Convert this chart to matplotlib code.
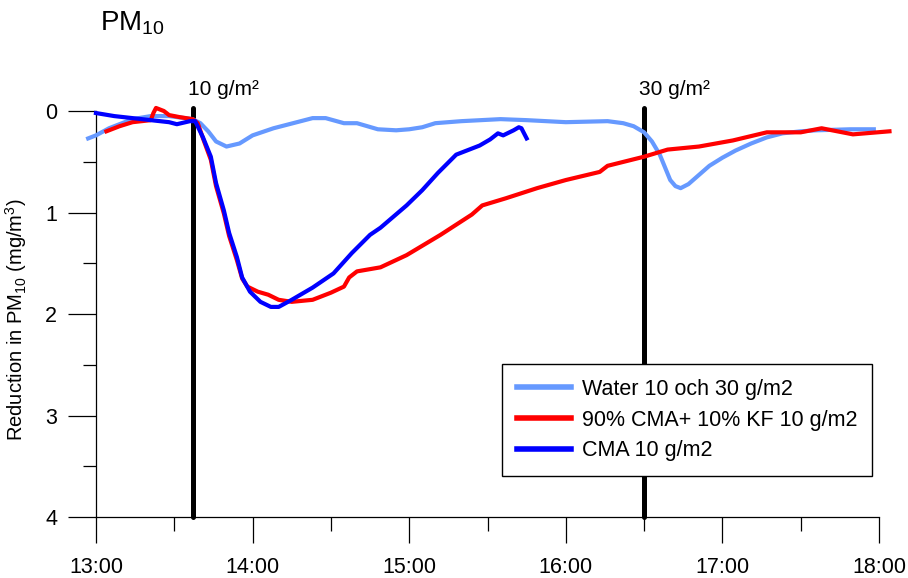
import matplotlib.pyplot as plt
from matplotlib.ticker import MultipleLocator, FuncFormatter

plt.rcParams['font.family'] = ['Liberation Sans', 'DejaVu Sans']
plt.rcParams['mathtext.default'] = 'regular'

# PM10 reduction (mg/m3)
water_t = ["12:57", "13:00", "13:05", "13:14", "13:21", "13:28", "13:37", "13:40",
           "13:43", "13:46", "13:50", "13:55", "14:00", "14:08", "14:14", "14:23",
           "14:28", "14:35", "14:40", "14:48", "14:55", "15:00", "15:05", "15:10",
           "15:20", "15:35", "15:45", "16:00", "16:16", "16:22", "16:26", "16:30",
           "16:33", "16:36", "16:40", "16:42", "16:44", "16:47", "16:51", "16:55",
           "17:00", "17:05", "17:11", "17:17", "17:23", "17:30", "17:36", "17:49",
           "17:58"]
water_y = [0.27, 0.24, 0.17, 0.08, 0.05, 0.05, 0.08, 0.12,
           0.20, 0.30, 0.35, 0.32, 0.24, 0.17, 0.13, 0.07,
           0.07, 0.12, 0.12, 0.18, 0.19, 0.18, 0.16, 0.12,
           0.10, 0.08, 0.09, 0.11, 0.10, 0.12, 0.15, 0.21,
           0.30, 0.43, 0.68, 0.74, 0.76, 0.72, 0.63, 0.54,
           0.46, 0.39, 0.32, 0.26, 0.22, 0.20, 0.19, 0.18,
           0.18]

kf_t = ["13:04", "13:09", "13:14", "13:21", "13:22", "13:23", "13:26", "13:28",
        "13:32", "13:37", "13:39", "13:41", "13:44", "13:46", "13:49", "13:51",
        "13:54", "13:56", "13:58", "14:02", "14:06", "14:10", "14:15", "14:23",
        "14:30", "14:35", "14:37", "14:40", "14:49", "14:59", "15:12", "15:24",
        "15:28", "15:37", "15:49", "16:00", "16:13", "16:16", "16:30", "16:39",
        "16:51", "17:04", "17:17", "17:30", "17:38", "17:50", "18:04"]
kf_y = [0.20, 0.15, 0.11, 0.09, 0.02, -0.03, 0.00, 0.04,
        0.06, 0.08, 0.12, 0.27, 0.48, 0.74, 1.01, 1.23,
        1.47, 1.65, 1.73, 1.78, 1.81, 1.86, 1.88, 1.86,
        1.79, 1.73, 1.64, 1.58, 1.54, 1.42, 1.22, 1.02,
        0.93, 0.86, 0.76, 0.68, 0.60, 0.54, 0.45, 0.38,
        0.35, 0.29, 0.21, 0.21, 0.17, 0.23, 0.20]

cma_t = ["13:00", "13:07", "13:14", "13:21", "13:28", "13:31", "13:36", "13:38",
         "13:41", "13:44", "13:46", "13:49", "13:51", "13:54", "13:56", "13:59",
         "14:03", "14:07", "14:10", "14:15", "14:23", "14:31", "14:38", "14:45",
         "14:49", "14:59", "15:05", "15:11", "15:18", "15:22", "15:27", "15:31",
         "15:34", "15:36", "15:40", "15:42", "15:43", "15:45"]
cma_y = [0.02, 0.05, 0.07, 0.09, 0.11, 0.13, 0.10, 0.10,
         0.26, 0.45, 0.71, 0.98, 1.20, 1.44, 1.64, 1.78,
         1.88, 1.93, 1.93, 1.86, 1.74, 1.60, 1.40, 1.22,
         1.15, 0.93, 0.78, 0.61, 0.43, 0.39, 0.34, 0.28,
         0.22, 0.24, 0.19, 0.16, 0.17, 0.27]

dose_t = ["13:37", "16:30"]
dose_labels = ["10 g/m²", "30 g/m²"]


def hours(s):
    h, m = s.split(":")
    return int(h) + int(m) / 60


def hhmm(x, pos):
    h = int(x)
    m = int(round((x - h) * 60))
    return "%d:%02d" % (h, m)


fig = plt.figure(figsize=(9.08, 5.78), dpi=100)
ax = fig.add_axes([0.1057, 0.1055, 0.8624, 0.72])

for t, lab in zip(dose_t, dose_labels):
    ax.plot([hours(t), hours(t)], [-0.03, 4], color="black", lw=3.6,
            solid_capstyle="round", clip_on=False, zorder=1)
    ax.text(hours(t) - 0.03, -0.16, lab, fontsize=15, ha="left", va="baseline")

ax.plot([hours(t) for t in water_t], water_y, color="#6699ff", lw=3,
        label="Water 10 och 30 g/m2", clip_on=False, zorder=3)
ax.plot([hours(t) for t in kf_t], kf_y, color="#ff0000", lw=3,
        label="90% CMA+ 10% KF 10 g/m2", clip_on=False, zorder=4)
ax.plot([hours(t) for t in cma_t], cma_y, color="#0000ff", lw=3,
        label="CMA 10 g/m2", clip_on=False, zorder=5)

ax.set_xlim(13, 18)
ax.set_ylim(4, -0.1)
ax.spines["top"].set_visible(False)
ax.spines["right"].set_visible(False)
ax.spines["left"].set_bounds(0, 4)
for s in ("left", "bottom"):
    ax.spines[s].set_linewidth(0.9)

ax.xaxis.set_major_locator(MultipleLocator(1))
ax.xaxis.set_minor_locator(MultipleLocator(0.5))
ax.xaxis.set_major_formatter(FuncFormatter(hhmm))
ax.yaxis.set_major_locator(MultipleLocator(1))
ax.yaxis.set_minor_locator(MultipleLocator(0.5))
ax.tick_params(axis="x", which="major", length=19, width=0.9, pad=10, labelsize=15.5)
ax.tick_params(axis="x", which="minor", length=10, width=0.9)
ax.tick_params(axis="y", which="major", length=20, width=0.9, pad=8, labelsize=15.5)
ax.tick_params(axis="y", which="minor", length=9.5, width=0.9)

ax.set_ylabel("Reduction in PM$_{10}$ (mg/m$^3$)", fontsize=14.5)
ax.yaxis.set_label_coords(-0.085, 0.475)

fig.text(0.11, 0.948, "PM$_{10}$", fontsize=20, va="baseline")

leg = ax.legend(loc="upper left", bbox_to_anchor=(0.5185, 0.368), borderaxespad=0,
                fontsize=15.5, handlelength=2.5, handletextpad=0.5,
                labelspacing=0.45, borderpad=0.7, fancybox=False,
                edgecolor="black", framealpha=1)
leg.get_frame().set_linewidth(1)
for line in leg.get_lines():
    line.set_linewidth(4)

plt.savefig("out.png", dpi=100)
